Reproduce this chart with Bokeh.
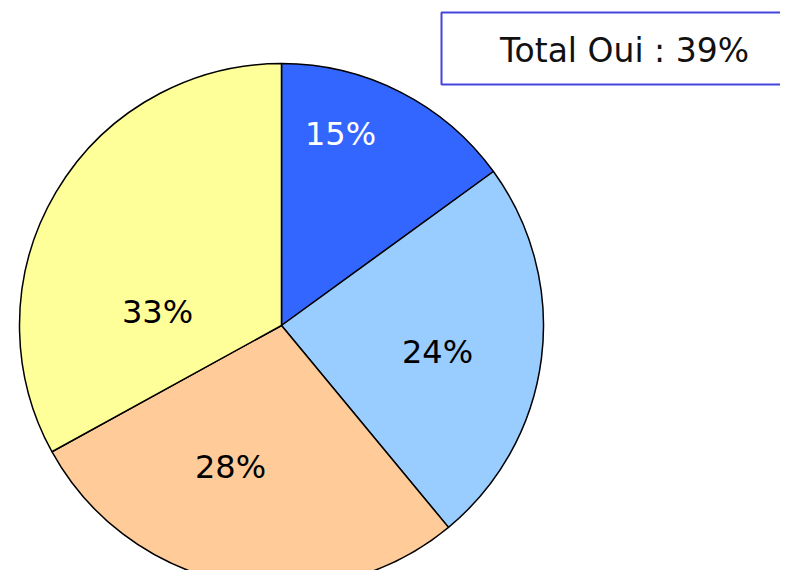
import math
from bokeh.plotting import figure
from bokeh.models import Range1d, ColumnDataSource
from bokeh.core.properties import value
from bokeh.embed import file_html
from bokeh.resources import INLINE

# Data
categories = ["A", "B", "C", "D"]
shares = [15, 24, 28, 33]
labels = ["15%", "24%", "28%", "33%"]
colors = ["#3366FF", "#99CCFF", "#FFCC99", "#FFFF99"]
label_colors = ["white", "black", "black", "black"]
total_text = "Total Oui : 39%"

W, H = 780, 570
p = figure(width=W, height=H, output_backend="svg", toolbar_location=None,
           x_range=Range1d(0, W), y_range=Range1d(0, H), min_border=0)
p.axis.visible = False
p.grid.visible = False
p.outline_line_color = None
p.background_fill_color = "white"
p.border_fill_color = "white"

cx, cy, r = 281, 245, 262
total = sum(shares)
starts, ends = [], []
cum = 0
for s in shares:
    starts.append(math.pi / 2 - 2 * math.pi * cum / total)
    cum += s
    ends.append(math.pi / 2 - 2 * math.pi * cum / total)

src = ColumnDataSource(dict(cat=categories, start=starts, end=ends, color=colors))
p.wedge(x=cx, y=cy, radius=r, start_angle="start", end_angle="end", direction="clock",
        fill_color="color", line_color="black", line_width=1.5, source=src)

# label positions (layout)
lx = [340, 437, 230, 157]
ly = [437, 219, 104, 259]
lsrc = ColumnDataSource(dict(x=lx, y=ly, t=labels, c=label_colors))
p.text(x="x", y="y", text="t", text_color="c", text_font=value("DejaVu Sans"),
       text_font_size="32px", text_align="center",
       text_baseline="middle", source=lsrc)

# Total box
p.quad(left=[441], right=[820], bottom=[486], top=[558], fill_color="white",
       line_color="#4444DD", line_width=2)
p.text(x=[624], y=[520], text=[total_text], text_font=value("DejaVu Sans"),
       text_font_size="33px", text_align="center", text_baseline="middle", text_color="#111111")

# bottom-left yellow box
p.quad(left=[-10], right=[177], bottom=[-40], top=[-2], fill_color="white",
       line_color="#FFCC00", line_width=2)

open("out.html", "w").write(file_html(p, INLINE))
